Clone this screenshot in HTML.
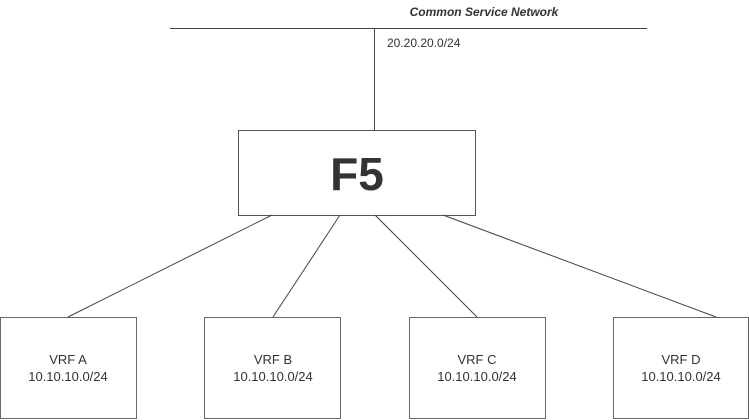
<!DOCTYPE html>
<html><head><meta charset="utf-8"><style>
html,body{margin:0;padding:0;background:#fff;}
svg{display:block}
text{font-family:"Liberation Sans",sans-serif;fill:#333}
</style></head><body>
<svg width="749" height="420" viewBox="0 0 749 420" xmlns="http://www.w3.org/2000/svg">
<g stroke="#444" stroke-width="1" fill="none">
<line x1="170" y1="28.5" x2="647" y2="28.5"/>
<line x1="374.5" y1="28" x2="374.5" y2="130"/>
<rect x="238.5" y="130.5" width="237" height="85" fill="#fff" stroke="#555"/>
<line x1="272" y1="215" x2="68" y2="317"/>
<line x1="340" y1="215" x2="273" y2="317"/>
<line x1="375" y1="215" x2="477" y2="317"/>
<line x1="443" y1="215" x2="716" y2="317"/>
<rect x="0.5" y="317.5" width="136" height="101" stroke="#666"/>
<rect x="204.5" y="317.5" width="136" height="101" stroke="#666"/>
<rect x="409.5" y="317.5" width="136" height="101" stroke="#666"/>
<rect x="613.5" y="317.5" width="135" height="101" stroke="#666"/>
</g>
<text x="484" y="16" font-size="12" font-style="italic" font-weight="bold" text-anchor="middle" fill="#222">Common Service Network</text>
<text x="387" y="47" font-size="12">20.20.20.0/24</text>
<text x="357" y="190" font-size="46" font-weight="bold" text-anchor="middle" fill="#000">F5</text>
<g font-size="13" text-anchor="middle">
<text x="68" y="364">VRF A</text><text x="68" y="381">10.10.10.0/24</text>
<text x="273" y="364">VRF B</text><text x="273" y="381">10.10.10.0/24</text>
<text x="477" y="364">VRF C</text><text x="477" y="381">10.10.10.0/24</text>
<text x="681" y="364">VRF D</text><text x="681" y="381">10.10.10.0/24</text>
</g>
</svg>
</body></html>
